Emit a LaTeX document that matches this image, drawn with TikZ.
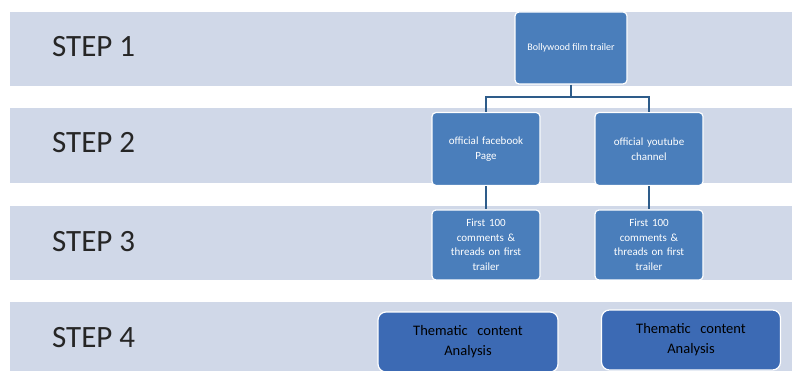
\documentclass[tikz,border=0pt]{standalone}
\usepackage{fontspec}
\setmainfont{Carlito}
\definecolor{band}{HTML}{D0D8E8}
\definecolor{boxblue}{HTML}{4A7EBB}
\definecolor{boxdark}{HTML}{3C6AB4}
\definecolor{linkblue}{HTML}{2E5C8A}
\begin{document}
\begin{tikzpicture}[x=1pt,y=-1pt,
  bandbox/.style={fill=band,draw=none},
  steplabel/.style={anchor=west,inner sep=0pt,font=\fontsize{31}{33}\selectfont,text=black!85},
  smallbox/.style={draw=white,line width=1.2pt,fill=boxblue,rounded corners=4pt,text=white,align=center,font=\fontsize{11}{14.5}\selectfont,inner sep=1pt},
  bigbox/.style={draw=white,line width=1.2pt,fill=boxdark,rounded corners=8pt,text=black,align=center,font=\fontsize{14.5}{20}\selectfont,inner sep=1pt},
  link/.style={draw=linkblue,line width=2.4pt}]
\useasboundingbox (0,0) rectangle (792,371);
\fill[white] (0,0) rectangle (792,371);
% bands
\path[bandbox] (10,12) rectangle (792,86);
\path[bandbox] (10,108) rectangle (792,183);
\path[bandbox] (10,206) rectangle (792,280);
\path[bandbox] (10,302) rectangle (792,371);
% step labels
\node[steplabel] (s1) at (52,47) {STEP 1};
\node[steplabel] (s2) at (52,143) {STEP 2};
\node[steplabel] (s3) at (52,242) {STEP 3};
\node[steplabel] (s4) at (52,338) {STEP 4};
% boxes
\node[smallbox,minimum width=112pt,minimum height=72pt,font=\fontsize{10}{12}\selectfont] (top) at (571,48) {Bollywood film trailer};
\node[smallbox,minimum width=108pt,minimum height=73pt,text width=104pt] (fb) at (486,149) {official facebook\\Page};
\node[smallbox,minimum width=108pt,minimum height=73pt,text width=104pt] (yt) at (649,149) {official youtube\\channel};
\node[smallbox,minimum width=108pt,minimum height=70pt,text width=100pt] (c1) at (486,245) {First 100\\comments \&\\threads on first\\trailer};
\node[smallbox,minimum width=108pt,minimum height=70pt,text width=100pt] (c2) at (649,245) {First 100\\comments \&\\threads on first\\trailer};
\node[bigbox,minimum width=180pt,minimum height=60pt,text width=170pt] (t1) at (468,342) {Thematic\ \ content\\Analysis};
\node[bigbox,minimum width=179pt,minimum height=60pt,text width=170pt] (t2) at (691,340) {Thematic\ \ content\\Analysis};
% connectors
\coordinate (j) at (571,97);
\draw[link] (top.south) -- (j);
\draw[link] (fb.north) |- (j) -| (yt.north);
\draw[link] (fb.south) -- (c1.north);
\draw[link] (yt.south) -- (c2.north);
\end{tikzpicture}
\end{document}
